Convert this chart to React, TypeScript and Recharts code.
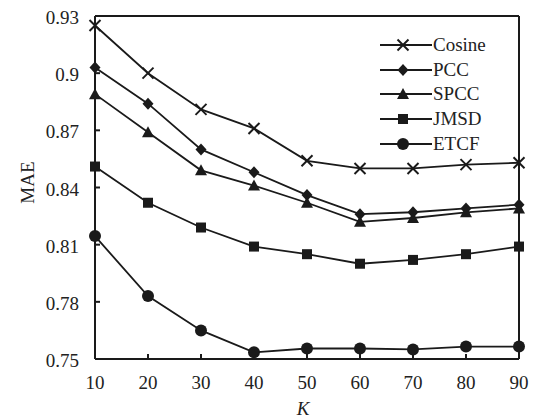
import React from 'react';
import { LineChart, Line, XAxis, YAxis, Legend, Label } from 'recharts';

const kValues = [10, 20, 30, 40, 50, 60, 70, 80, 90];
const cosine = [0.925, 0.9, 0.881, 0.871, 0.854, 0.85, 0.85, 0.852, 0.853];
const pcc = [0.903, 0.884, 0.86, 0.848, 0.836, 0.826, 0.827, 0.829, 0.831];
const spcc = [0.889, 0.869, 0.849, 0.841, 0.832, 0.822, 0.824, 0.827, 0.829];
const jmsd = [0.851, 0.832, 0.819, 0.809, 0.805, 0.8, 0.802, 0.805, 0.809];
const etcf = [0.8145, 0.783, 0.765, 0.7535, 0.7555, 0.7555, 0.755, 0.7565, 0.7565];
const yTicks = [0.75, 0.78, 0.81, 0.84, 0.87, 0.9, 0.93];

const INK = '#1a1a1a';
const FONT = '"Liberation Serif", "Times New Roman", serif';

type Shape = 'cross' | 'diamond' | 'triangle' | 'square' | 'circle';

const series: { key: string; name: string; values: number[]; shape: Shape }[] = [
  { key: 'cosine', name: 'Cosine', values: cosine, shape: 'cross' },
  { key: 'pcc', name: 'PCC', values: pcc, shape: 'diamond' },
  { key: 'spcc', name: 'SPCC', values: spcc, shape: 'triangle' },
  { key: 'jmsd', name: 'JMSD', values: jmsd, shape: 'square' },
  { key: 'etcf', name: 'ETCF', values: etcf, shape: 'circle' },
];

const data = kValues.map((k, i) => {
  const row: Record<string, number> = { k };
  series.forEach(s => { row[s.key] = s.values[i]; });
  return row;
});

function marker(shape: Shape, cx: number, cy: number, key?: string | number) {
  switch (shape) {
    case 'cross':
      return (
        <g key={key}>
          <line x1={cx - 5.5} y1={cy - 5.5} x2={cx + 5.5} y2={cy + 5.5} stroke={INK} strokeWidth={2} />
          <line x1={cx - 5.5} y1={cy + 5.5} x2={cx + 5.5} y2={cy - 5.5} stroke={INK} strokeWidth={2} />
        </g>
      );
    case 'diamond':
      return <polygon key={key} points={`${cx},${cy - 6} ${cx + 5.5},${cy} ${cx},${cy + 6} ${cx - 5.5},${cy}`} fill={INK} />;
    case 'triangle':
      return <polygon key={key} points={`${cx},${cy - 6} ${cx + 6},${cy + 5} ${cx - 6},${cy + 5}`} fill={INK} />;
    case 'square':
      return <rect key={key} x={cx - 5} y={cy - 5} width={10} height={10} fill={INK} />;
    default:
      return <circle key={key} cx={cx} cy={cy} r={6} fill={INK} />;
  }
}

const XTick = (props: any) => {
  const { x, y, payload } = props;
  return (
    <g>
      <line x1={x} y1={y} x2={x} y2={y - 5} stroke={INK} strokeWidth={2} />
      <text x={x} y={y + 30} textAnchor="middle" fontSize={19} fontFamily={FONT} fill="#222">
        {payload.value}
      </text>
    </g>
  );
};

const YTick = (props: any) => {
  const { x, y, payload } = props;
  return (
    <g>
      <line x1={x} y1={y} x2={x + 5} y2={y} stroke={INK} strokeWidth={2} />
      <text x={x - 16} y={y + 8} textAnchor="end" fontSize={19} fontFamily={FONT} fill="#222">
        {payload.value}
      </text>
    </g>
  );
};

const LegendBox = () => (
  <div style={{ fontFamily: FONT, fontSize: 19, color: '#222' }}>
    {series.map(s => (
      <div key={s.key} style={{ display: 'flex', alignItems: 'center', height: 24.6 }}>
        <svg width={53} height={24} style={{ display: 'block' }}>
          <line x1={0} y1={12} x2={52} y2={12} stroke={INK} strokeWidth={2} />
          {marker(s.shape, 23, 12)}
        </svg>
        <span style={{ lineHeight: '20px' }}>{s.name}</span>
      </div>
    ))}
  </div>
);

export default function App() {
  return (
    <div style={{ position: 'absolute', left: 0, top: 0, background: '#fff' }}>
      <LineChart width={536} height={419} data={data} margin={{ top: 0, right: 0, bottom: 0, left: 0 }}>
        <XAxis
          dataKey="k"
          type="number"
          domain={[10, 90]}
          ticks={kValues}
          height={60}
          tickSize={0}
          tickMargin={0}
          tickLine={false}
          axisLine={{ stroke: INK, strokeWidth: 2 }}
          tick={<XTick />}
        >
          <Label
            content={({ viewBox }: any) => (
              <text
                x={viewBox.x + viewBox.width / 2 - 4}
                y={415}
                textAnchor="middle"
                fontSize={19}
                fontStyle="italic"
                fontFamily={FONT}
                fill="#222"
              >
                K
              </text>
            )}
          />
        </XAxis>
        <XAxis
          xAxisId="top"
          orientation="top"
          dataKey="k"
          type="number"
          domain={[10, 90]}
          height={16}
          tick={false}
          tickLine={false}
          axisLine={{ stroke: INK, strokeWidth: 2 }}
        />
        <YAxis
          domain={[0.75, 0.93]}
          ticks={yTicks}
          width={95}
          tickSize={0}
          tickMargin={0}
          tickLine={false}
          axisLine={{ stroke: INK, strokeWidth: 2 }}
          tick={<YTick />}
        >
          <Label
            content={({ viewBox }: any) => {
              const cx = 27;
              const cy = viewBox.y + viewBox.height / 2 - 5;
              return (
                <text
                  x={cx}
                  y={cy}
                  transform={`rotate(-90 ${cx} ${cy})`}
                  textAnchor="middle"
                  dominantBaseline="central"
                  fontSize={19}
                  fontFamily={FONT}
                  fill="#222"
                >
                  MAE
                </text>
              );
            }}
          />
        </YAxis>
        <YAxis
          yAxisId="right"
          orientation="right"
          domain={[0.75, 0.93]}
          width={17}
          tick={false}
          tickLine={false}
          axisLine={{ stroke: INK, strokeWidth: 2 }}
        />
        <Legend
          layout="vertical"
          align="center"
          verticalAlign="middle"
          content={<LegendBox />}
          wrapperStyle={{ left: 380, top: 33, width: 'auto', height: 'auto' }}
        />
        {series.map(s => (
          <Line
            key={s.key}
            dataKey={s.key}
            name={s.name}
            stroke={INK}
            strokeWidth={1.8}
            isAnimationActive={false}
            dot={(p: any) => marker(s.shape, p.cx, p.cy, p.index)}
            activeDot={false}
          />
        ))}
      </LineChart>
    </div>
  );
}
